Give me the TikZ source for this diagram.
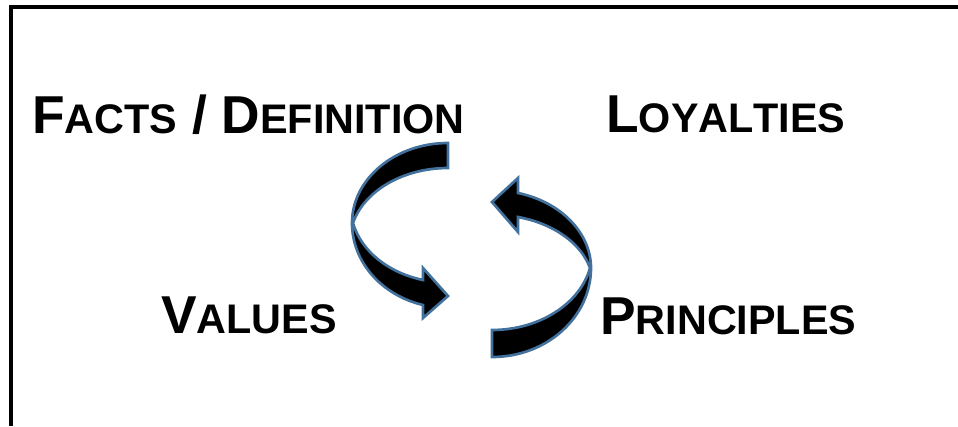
\documentclass[tikz,border=0pt]{standalone}
\usepackage{fontspec}
\setmainfont[Kerning=Off]{Liberation Sans}

\definecolor{borde}{HTML}{41719C}

% Versalitas: primera letra grande y el resto reducido
\newcommand{\grande}{\fontsize{40}{48}\selectfont}
\newcommand{\chica}{\fontsize{31}{37}\selectfont}
\newcommand{\versalita}[2]{{\grande #1}{\chica #2}}

\tikzset{
  etiqueta/.style={anchor=base west, inner sep=0pt, font=\bfseries},
  flecha/.style={fill=black, draw=borde, line width=2pt, line join=miter}
}

\begin{document}
\begin{tikzpicture}[x=0.75pt, y=-0.75pt]
  \useasboundingbox (0,0) rectangle (958,426);

  % Marco (solo bordes superior e izquierdo)
  \draw[line width=3pt] (11,426) -- (11,7) -- (958,7);

  % Rótulos
  \node[etiqueta] (hechos)     at (32,133)  {\versalita{F}{ACTS}{\grande{} / }\versalita{D}{EFINITION}};
  \node[etiqueta] (lealtades)  at (606,132) {\versalita{L}{OYALTIES}};
  \node[etiqueta] (valores)    at (161,333) {\versalita{V}{ALUES}};
  \node[etiqueta] (principios) at (600,334) {\versalita{P}{RINCIPLES}};

  % Flecha curva izquierda (arcos de elipse, bordes interiores en punta)
  \draw[flecha] (448,143)
      .. controls (395,143) and (352,179) .. (352,223)
      .. controls (352,261.5) and (381,295) .. (423,305)
      -- (423,318) -- (448,296) -- (423,268) -- (423,280)
      .. controls (388,272.7) and (361,250.8) .. (353,223)
      .. controls (364,191) and (403,168) .. (448,168)
      -- cycle;

  % Flecha curva derecha (arcos de elipse, bordes interiores en punta)
  \draw[flecha] (492,357)
      .. controls (547,357) and (591,317) .. (591,268)
      .. controls (591,233) and (561,202) .. (518,193)
      -- (518,178) -- (492,202) -- (518,232) -- (518,217)
      .. controls (553.5,223.6) and (581,243) .. (590,268)
      .. controls (580,304) and (539,330) .. (492,330)
      -- cycle;
\end{tikzpicture}
\end{document}
